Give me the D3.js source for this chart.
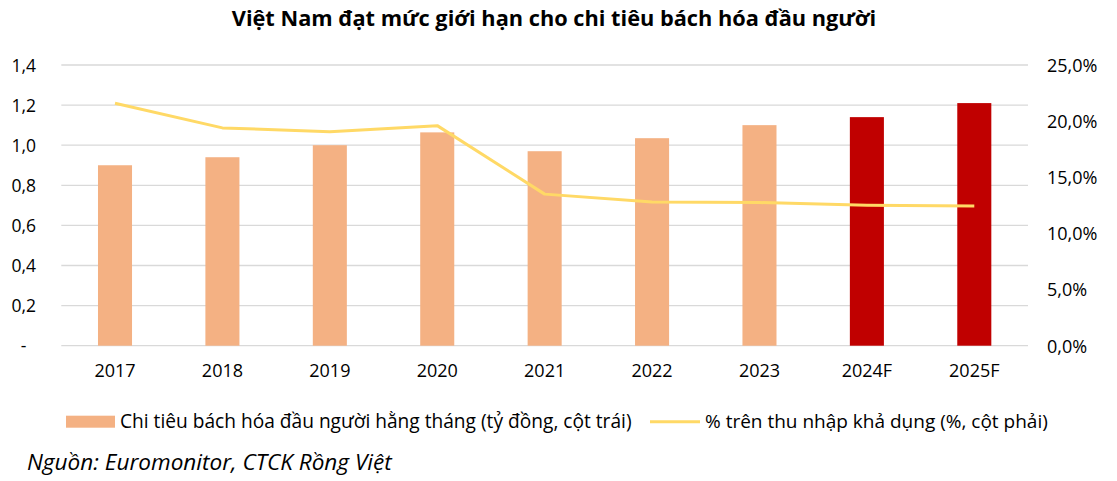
<!DOCTYPE html>
<html><head><meta charset="utf-8">
<script src="https://cdn.jsdelivr.net/npm/d3@7"></script>
<style>
body{margin:0;background:#fff;}
text{font-family:"Open Sans","Noto Sans",sans-serif;fill:#000;}
</style></head>
<body><svg id="c" width="1117" height="481"></svg>
<script>
const categories = ["2017","2018","2019","2020","2021","2022","2023","2024F","2025F"];
const spending = [0.90,0.94,1.00,1.064,0.97,1.035,1.10,1.14,1.21];
const shareOfIncome = [21.6,19.4,19.05,19.6,13.5,12.8,12.75,12.5,12.45];
const forecast = [false,false,false,false,false,false,false,true,true];
const leftTicks = [0,0.2,0.4,0.6,0.8,1.0,1.2,1.4];
const rightTicks = [0,5,10,15,20,25];
const title = "Việt Nam đạt mức giới hạn cho chi tiêu bách hóa đầu người";
const legendBar = "Chi tiêu bách hóa đầu người hằng tháng (tỷ đồng, cột trái)";
const legendLine = "% trên thu nhập khả dụng (%, cột phải)";
const source = "Nguồn: Euromonitor, CTCK Rồng Việt";

const svg = d3.select("#c");
const W = 1117;
const plotL = 61.3, plotR = 1028, y0 = 345.7, yTop = 65;
const x = d3.scaleBand().domain(categories).range([plotL, plotR]).paddingInner(0.683).paddingOuter(0.3415);
const yL = d3.scaleLinear().domain([0,1.4]).range([y0,yTop]);
const yR = d3.scaleLinear().domain([0,25]).range([y0,yTop]);

function fit(sel, target){
  let fs = +sel.attr("font-size");
  const w = sel.node().getComputedTextLength();
  sel.attr("font-size", fs*target/w);
}

// gridlines
svg.append("g").selectAll("line").data(leftTicks).join("line")
  .attr("x1",plotL).attr("x2",plotR)
  .attr("y1",d=>yL(d)).attr("y2",d=>yL(d))
  .attr("stroke","#d9d9d9").attr("stroke-width",1.3);

// bars
svg.append("g").selectAll("rect").data(categories).join("rect")
  .attr("x",d=>x(d)).attr("width",x.bandwidth())
  .attr("y",(d,i)=>yL(spending[i])).attr("height",(d,i)=>yL(0)-yL(spending[i]))
  .attr("fill",(d,i)=>forecast[i]?"#c00000":"#f4b183");

// line
const line = d3.line().x((d,i)=>x(categories[i])+x.bandwidth()/2).y(d=>yR(d));
svg.append("path").datum(shareOfIncome).attr("d",line)
  .attr("fill","none").attr("stroke","#ffd966").attr("stroke-width",3).attr("stroke-linejoin","round");

// left axis
const fmtL = d=> d===0 ? "-" : d3.format(".1f")(d).replace(".",",");
const gL = svg.append("g").attr("transform","translate(36,0)")
  .call(d3.axisLeft(yL).tickValues(leftTicks).tickSize(0).tickPadding(0).tickFormat(fmtL));
gL.select(".domain").remove();
gL.selectAll("text").attr("font-size",17.5).attr("dy","0.35em")
  .attr("dx",d=>d===0?-9.5:0);

// right axis
const fmtR = d=> d3.format(".1f")(d).replace(".",",")+"%";
const gR = svg.append("g").attr("transform","translate(1047,0)")
  .call(d3.axisRight(yR).tickValues(rightTicks).tickSize(0).tickPadding(0).tickFormat(fmtR));
gR.select(".domain").remove();
gR.selectAll("text").attr("font-size",18).attr("dy","0.35em");

// x axis
const gX = svg.append("g").attr("transform","translate(0,364)")
  .call(d3.axisBottom(x).tickSize(0).tickPadding(0));
gX.select(".domain").remove();
gX.selectAll("text").attr("font-size",18).attr("dy","0.71em");
svg.selectAll(".tick text").attr("font-family","'Open Sans',sans-serif").attr("fill","#000");

// title
const t = svg.append("text").attr("x",554).attr("y",26).attr("text-anchor","middle")
  .attr("font-size",21).attr("font-weight","bold").text(title);
fit(t, 645);

// legend
svg.append("rect").attr("x",66).attr("y",415.7).attr("width",49).attr("height",12).attr("fill","#f4b183");
const l1 = svg.append("text").attr("x",120).attr("y",428).attr("font-size",16).text(legendBar);
fit(l1, 512);
svg.append("line").attr("x1",650).attr("x2",700).attr("y1",421.7).attr("y2",421.7).attr("stroke","#ffd966").attr("stroke-width",3);
const l2 = svg.append("text").attr("x",705).attr("y",428).attr("font-size",16).text(legendLine);
fit(l2, 343);

const s = svg.append("text").attr("x",27).attr("y",470).attr("font-size",19).attr("font-style","italic").text(source);
fit(s, 365);
</script></body></html>
